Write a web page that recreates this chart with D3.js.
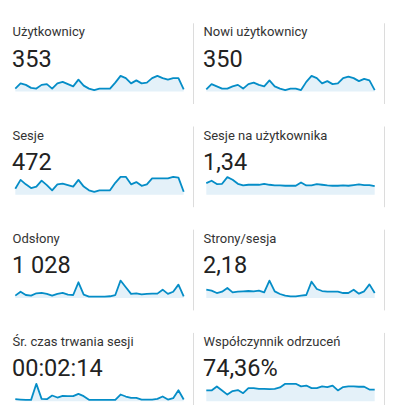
<!DOCTYPE html>
<html><head><meta charset="utf-8">
<script src="https://cdn.jsdelivr.net/npm/d3@7"></script>
<style>
html,body{margin:0;padding:0;background:#fff;}
svg{display:block;font-family:Roboto,"Noto Sans",Arial,sans-serif;}
</style></head>
<body>
<svg id="chart" width="393" height="405"></svg>
<script>
// ---- data ----
const titles = ["Użytkownicy","Nowi użytkownicy","Sesje","Sesje na użytkownika","Odsłony","Strony/sesja","Śr. czas trwania sesji","Współczynnik odrzuceń"];
const totals = ["353","350","472","1,34","1 028","2,18","00:02:14","74,36%"];
const users = [4,11,9,5,4,9,10,4,11,13,10,7,16,8,4,2,4,4,4,12,21,18,11,15,11,12,18,21,18,16,18,18,3];
const newUsers = [3,10,7,4,4,7,9,4,10,12,9,7,15,7,4,2,4,4,2,13,21,18,11,14,10,11,18,20,18,14,17,15,2];
const sessions = [8,20,14,9,11,19,13,6,14,15,13,11,20,11,6,4,6,6,6,16,24,24,14,17,12,14,22,22,22,22,24,23,4];
const sessionsPerUser = [1.54,1.85,1.41,1.45,2.33,1.98,1.45,1.23,1.32,1.32,1.32,1.45,1.32,1.23,1.23,1.19,1.19,1.19,1.63,1.23,1.23,1.41,1.32,1.23,1.19,1.19,1.23,1.19,1.28,1.36,1.28,1.28,1.14];
const pageviews = [15,40,19,15,30,32,26,15,26,32,21,19,100,21,9,9,9,9,11,19,111,68,26,30,23,26,28,28,53,26,40,85,11];
const pagesPerSession = [2.67,2.35,1.6,2.03,3.2,1.82,2.03,2.14,2.24,2.14,2.35,1.82,5.56,2.14,1.28,0.75,0.53,0.53,0.75,0.96,5.24,2.89,2.24,2.03,2.03,2.03,1.6,1.6,2.67,1.39,2.14,4.38,1.6];
const avgDuration = [73,61,49,49,634,85,73,207,134,195,183,183,268,183,49,49,49,49,49,49,244,171,122,122,61,61,61,85,171,61,110,402,61];
const bounceRate = [62,62,85,62,38,58,64,46,75,75,71,71,69,71,79,100,100,100,85,90,75,75,85,81,90,62,81,85,85,83,83,67,67];
const yMax = [25,25,25,2.46,119,6.0,683,107.5];

const seriesList = [users,newUsers,sessions,sessionsPerUser,pageviews,pagesPerSession,avgDuration,bounceRate];

// ---- layout ----
const svg = d3.select("#chart");
const colX = [12.5, 203.5];
const rowPitch = 103.2;
const borderX = [193.5, 384.5];

seriesList.forEach((data, i) => {
  const col = i % 2, row = Math.floor(i / 2);
  const x0 = colX[col];
  const y0 = row * rowPitch;
  const g = svg.append("g");

  // card right border
  g.append("line")
    .attr("x1", borderX[col]).attr("x2", borderX[col])
    .attr("y1", y0 + 23.3).attr("y2", y0 + 104)
    .attr("stroke", "#dcdcdc").attr("stroke-width", 1);

  g.append("text").attr("x", x0).attr("y", y0 + 36.3)
    .attr("font-size", 13).attr("fill", "#333").text(titles[i]);
  g.append("text").attr("x", x0 - 0.5).attr("y", y0 + 66.7)
    .attr("font-size", 23.5).attr("fill", "#222").text(totals[i]);

  const x = d3.scaleLinear().domain([0, data.length - 1]).range([x0 + 2.8, x0 + 171.2]);
  const y = d3.scaleLinear().domain([0, yMax[i]]).range([y0 + 91.6, y0 + 72.9]);

  g.append("path").datum(data)
    .attr("d", d3.area().x((d, j) => x(j)).y0(y(0)).y1(d => y(d)))
    .attr("fill", "#e4f1f9");
  g.append("path").datum(data)
    .attr("d", d3.line().x((d, j) => x(j)).y(d => y(d)))
    .attr("fill", "none").attr("stroke", "#058dc7").attr("stroke-width", 1.8)
    .attr("stroke-linejoin", "round");
});
</script>
</body></html>
